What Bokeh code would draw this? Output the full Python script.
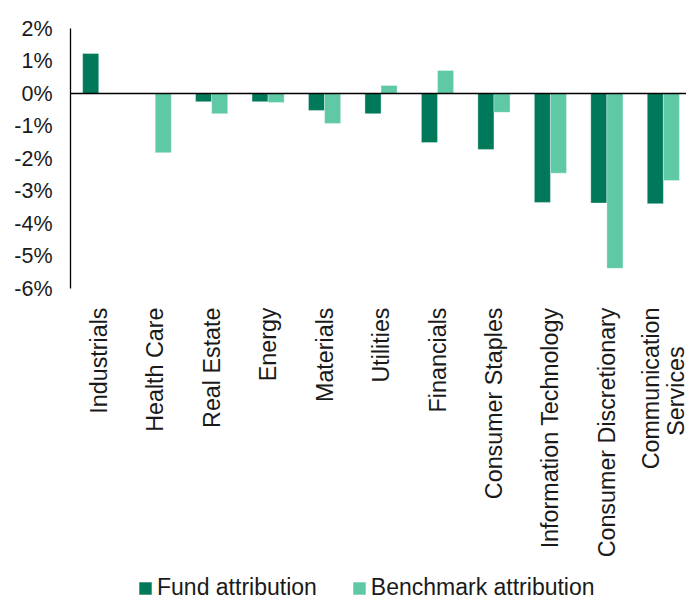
import math
from bokeh.plotting import figure
from bokeh.models import (ColumnDataSource, Range1d, FixedTicker, PrintfTickFormatter,
                          Span, Legend, LegendItem)
from bokeh.core.properties import value
from bokeh.embed import file_html
from bokeh.resources import INLINE

categories = ["Industrials", "Health Care", "Real Estate", "Energy", "Materials",
              "Utilities", "Financials", "Consumer Staples", "Information Technology",
              "Consumer Discretionary", "Communication\nServices\u00a0\u00a0\u00a0\u00a0\u00a0\u00a0"]
fund = [1.23, 0.0, -0.25, -0.25, -0.52, -0.62, -1.51, -1.72, -3.35, -3.37, -3.39]
bench = [0.0, -1.82, -0.62, -0.28, -0.92, 0.25, 0.71, -0.58, -2.45, -5.38, -2.68]
y_ticks = [-6, -5, -4, -3, -2, -1, 0, 1, 2]

FUND_C = "#00785A"
BENCH_C = "#5FC8A5"
TEXT_C = "#1a1a1a"
BAR_W = 0.285

PX_PER_UNIT = 32.5          # pixels per 1 percentage point
FRAME_H = 573
Y_MIN, Y_MAX = -6, 2
y_start = Y_MAX - FRAME_H / PX_PER_UNIT
label_y = Y_MIN - 19 / PX_PER_UNIT

centers = [i + 0.5 for i in range(len(categories))]
src = ColumnDataSource(dict(
    xf=[c - BAR_W / 2 for c in centers],
    xb=[c + BAR_W / 2 for c in centers],
    fund=fund, bench=bench))
lab_src = ColumnDataSource(dict(x=centers, y=[label_y] * len(centers), text=categories))

p = figure(frame_width=616, frame_height=FRAME_H, output_backend="svg", toolbar_location=None,
           x_range=Range1d(0, 10.91), y_range=Range1d(y_start, Y_MAX),
           min_border_left=70, min_border_right=0, min_border_top=28,
           min_border_bottom=0)
p.outline_line_color = None
p.xgrid.visible = False
p.ygrid.visible = False
p.xaxis.visible = False
p.background_fill_color = "white"
p.border_fill_color = "white"

rf = p.vbar(x="xf", top="fund", bottom=0, width=BAR_W, source=src,
            fill_color=FUND_C, line_color="white", line_alpha=0.35, line_width=1)
rb = p.vbar(x="xb", top="bench", bottom=0, width=BAR_W, source=src,
            fill_color=BENCH_C, line_color="white", line_alpha=0.35, line_width=1)

p.add_layout(Span(location=0, dimension="width", line_color="black", line_width=1.5))

# category labels (rotated)
p.text(x="x", y="y", text="text", source=lab_src, angle=math.pi / 2,
       text_align="right", text_baseline="middle", text_line_height=0.97,
       text_font=value("Liberation Sans"), text_font_size=value("23.3px"),
       text_color=TEXT_C)

# y axis
ya = p.yaxis[0]
ya.ticker = FixedTicker(ticks=y_ticks)
ya.bounds = (Y_MIN, Y_MAX)
ya.formatter = PrintfTickFormatter(format="%d%%")
ya.major_tick_line_color = None
ya.minor_tick_line_color = None
ya.major_tick_out = 0
ya.major_tick_in = 0
ya.major_label_standoff = 18
ya.axis_line_color = "black"
ya.axis_line_width = 1.3
ya.major_label_text_font = "Liberation Sans"
ya.major_label_text_font_size = "21.5px"
ya.major_label_text_color = TEXT_C

legend = Legend(items=[LegendItem(label="Fund attribution", renderers=[rf]),
                       LegendItem(label="Benchmark attribution", renderers=[rb])],
                orientation="horizontal", location=(67, 0),
                glyph_width=16, glyph_height=16, label_standoff=4, spacing=34,
                padding=0, margin=0, border_line_color=None,
                background_fill_alpha=0,
                label_text_font="Liberation Sans", label_text_font_size="23px",
                label_text_color=TEXT_C, label_height=23)
p.add_layout(legend, "center")

open("out.html", "w").write(file_html(p, INLINE))
